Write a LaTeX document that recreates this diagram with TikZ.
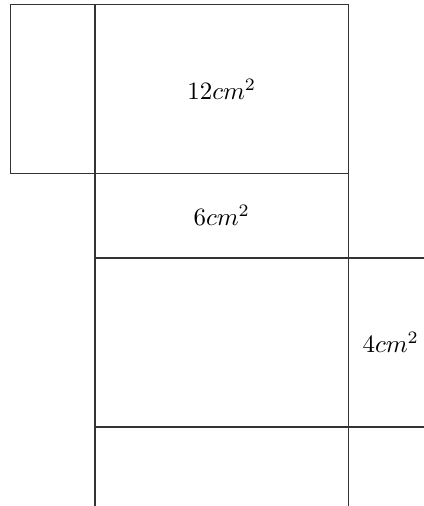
\documentclass[tikz,border=0pt]{standalone}
\usepackage{amsmath,amssymb}
\usepackage{tikz}
\usetikzlibrary{positioning}

\begin{document}
\begin{tikzpicture}[x=1.19cm,y=1.19cm]
        \tikzstyle{face}=[draw=black!80,line width=0.6pt]
        \tikzstyle{area}=[inner sep=0pt]
            \clip (-1.124,-0.935) rectangle (3.893,5.053);
            \useasboundingbox (-1.124,-0.935) rectangle (3.893,5.053);

            % faces of the net
            \draw[face] (-1,3) rectangle (0,5);
            \draw[face] (0,3) rectangle (3,5);
            \draw[face] (0,2) rectangle (3,3);
            \draw[face] (0,0) rectangle (3,2);
            \draw[face] (3,0) rectangle (4.5,2);
            \draw[face] (0,-1.5) rectangle (3,0);

            \node[area] (top) at (1.5,4) {$12cm^2$};
            \node[area] (front) at (1.5,2.5) {$6cm^2$};
            \node[area] (side) at (3.5,1) {$4cm^2$};
        \end{tikzpicture}
\end{document}
